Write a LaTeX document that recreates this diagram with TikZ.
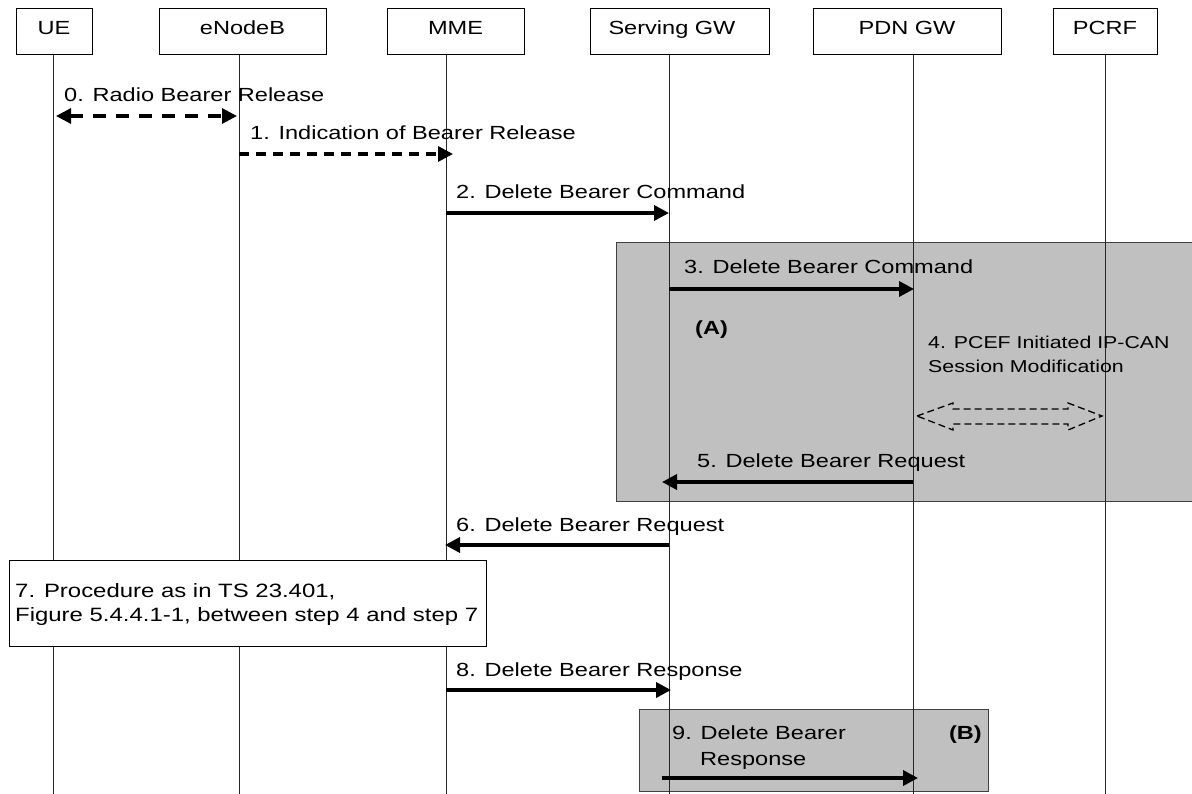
\documentclass[tikz,border=0pt]{standalone}
\usepackage{fontspec}
\setmainfont{Liberation Sans}[FakeStretch=1.24]
\usetikzlibrary{arrows.meta}
\definecolor{boxgray}{HTML}{C0C0C0}
\definecolor{edgegray}{HTML}{404040}
\begin{document}
\begin{tikzpicture}[x=1pt,y=-1pt,
  txt/.style={inner sep=0pt, font=\fontsize{19}{24}\selectfont},
  lbl/.style={txt, anchor=base west},
  small/.style={lbl, font=\fontsize{17.2}{22}\selectfont},
  hdr/.style={draw=black, line width=1pt, minimum height=46pt, inner sep=0pt},
  htxt/.style={txt, anchor=base},
  life/.style={line width=1pt, draw=black!85},
  grp/.style={draw=edgegray, fill=boxgray, line width=1pt, inner sep=0pt},
  tip/.style={-{Triangle[length=15pt,width=15pt]}},
  msg/.style={line width=3.5pt, tip},
  dmsgA/.style={line width=3.2pt, dash pattern=on 13pt off 10pt, {Triangle[length=15pt,width=15pt]}-{Triangle[length=15pt,width=15pt]}},
  dmsgB/.style={line width=3.2pt, dash pattern=on 10pt off 7pt, tip},
  blockarrow/.style={line width=1.3pt, dash pattern=on 7pt off 4pt}
]
\useasboundingbox (0,0) rectangle (1192,794);

% group boxes
\node[grp, minimum width=578pt, minimum height=258pt] (grpA) at (905,372) {};
\node[grp, minimum width=349pt, minimum height=82pt] (grpB) at (813.5,750) {};

% header boxes
\node[hdr, minimum width=76pt]  (ue)   at (54,32) {};
\node[hdr, minimum width=167pt] (enb)  at (242.5,32) {};
\node[hdr, minimum width=137pt] (mme)  at (455.5,32) {};
\node[hdr, minimum width=179pt] (sgw)  at (679.5,32) {};
\node[hdr, minimum width=188pt] (pgw)  at (907,32) {};
\node[hdr, minimum width=104pt] (pcrf) at (1105,32) {};
\node[htxt] (uet)   at (54,34.5) {UE};
\node[htxt] (enbt)  at (242.5,34.5) {eNodeB};
\node[htxt] (mmet)  at (455.5,34.5) {MME};
\node[htxt] (sgwt)  at (672,34.5) {Serving GW};
\node[htxt] (pgwt)  at (907,34.5) {PDN GW};
\node[htxt] (pcrft) at (1105,34.5) {PCRF};

% lifelines
\foreach \n/\x in {ue/53, enb/239, mme/446, sgw/669, pgw/913, pcrf/1105} {
  \coordinate (\n Top) at (\x,55);
  \coordinate (\n Bot) at (\x,794);
  \draw[life] (\n Top) -- (\n Bot);
}

% step 7 box
\node[draw=black, fill=white, line width=1pt, minimum width=477pt, minimum height=86pt, inner sep=0pt] (proc) at (247.5,603) {};
\node[lbl, font=\fontsize{19.3}{24}\selectfont] (proc1) at (15,597) {7. Procedure as in TS 23.401,};
\node[lbl, font=\fontsize{19.3}{24}\selectfont] (proc2) at (15,621) {Figure 5.4.4.1-1, between step 4 and step 7};

% message end points
\coordinate (m0a) at (56,116);  \coordinate (m0b) at (237,116);
\coordinate (m1a) at (239,154); \coordinate (m1b) at (453,154);
\coordinate (m2a) at (446,213); \coordinate (m2b) at (669,213);
\coordinate (m3a) at (669,289); \coordinate (m3b) at (914,289);
\coordinate (m5a) at (913,482); \coordinate (m5b) at (662,482);
\coordinate (m6a) at (669,545); \coordinate (m6b) at (445,545);
\coordinate (m8a) at (446,690); \coordinate (m8b) at (671,690);
\coordinate (m9a) at (662,778); \coordinate (m9b) at (918,778);

\draw[dmsgA] (m0a) -- (m0b);
\draw[dmsgB] (m1a) -- (m1b);
\draw[msg] (m2a) -- (m2b);
\draw[msg] (m3a) -- (m3b);
\draw[msg] (m5a) -- (m5b);
\draw[msg] (m6a) -- (m6b);
\draw[msg] (m8a) -- (m8b);
\draw[msg] (m9a) -- (m9b);

% step 4 hollow dashed double arrow
\draw[blockarrow] (917,416) -- (953,403) -- (953,409) -- (1068,409) -- (1068,403)
  -- (1102,416) -- (1068,430) -- (1068,424) -- (953,424) -- (953,430) -- cycle;

% labels
\node[lbl] (l0) at (64,102) {0. Radio Bearer Release};
\node[lbl] (l1) at (250,140) {1. Indication of Bearer Release};
\node[lbl] (l2) at (456,199) {2. Delete Bearer Command};
\node[lbl] (l3) at (684,274) {3. Delete Bearer Command};
\node[lbl, font=\fontsize{19}{24}\selectfont\bfseries] (lA) at (695,335) {(A)};
\node[small] (l4a) at (928,349) {4. PCEF Initiated IP-CAN};
\node[small] (l4b) at (928,373) {Session Modification};
\node[lbl] (l5) at (697,467) {5. Delete Bearer Request};
\node[lbl] (l6) at (456,531) {6. Delete Bearer Request};
\node[lbl] (l8) at (456,676) {8. Delete Bearer Response};
\node[lbl] (l9a) at (672,739) {9. Delete Bearer};
\node[lbl] (l9b) at (700,765) {Response};
\node[txt, anchor=base east, font=\fontsize{19}{24}\selectfont\bfseries] (lB) at (982,739) {(B)};
\end{tikzpicture}
\end{document}
